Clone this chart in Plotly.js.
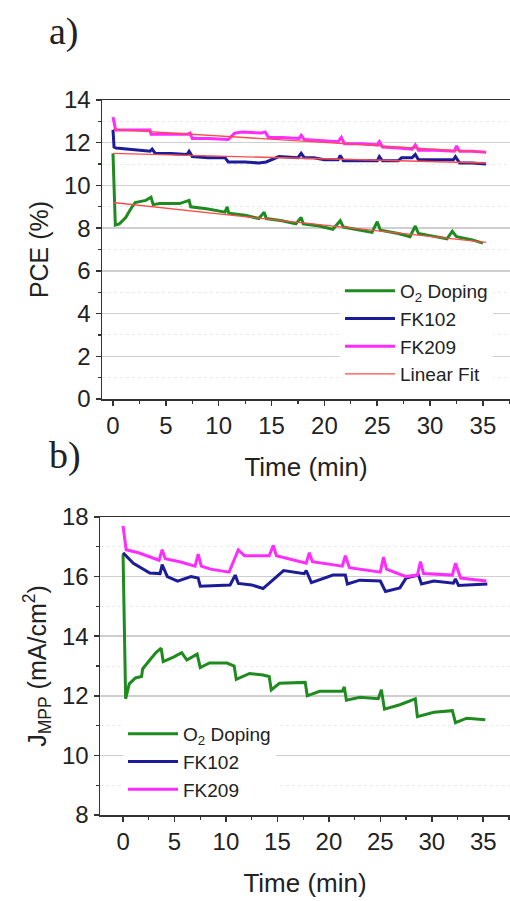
<!DOCTYPE html>
<html>
<head>
<meta charset="utf-8">
<script src="https://cdn.plot.ly/plotly-3.0.1.min.js"></script>
<style>html,body{margin:0;padding:0;background:#fff;}#chart{width:510px;height:901px;}</style>
</head>
<body>
<div id="chart"></div>
<script>
// ---------- Panel a) PCE (%) ----------
const pceO2T = [0, 0.05, 0.12, 0.22, 0.6, 1.2, 1.8, 2.1, 3.1, 3.6, 3.8, 4.4, 6.3, 7.2, 7.35, 9.0, 10.6, 10.8, 10.95, 12.5, 13.8, 14.3, 14.5, 16.0, 17.3, 17.8, 18.0, 19.5, 20.8, 21.5, 21.8, 23.0, 24.5, 25.0, 25.3, 27.0, 28.1, 28.6, 28.9, 30.0, 31.6, 32.1, 32.5, 34.0, 35.0];
const pceO2V = [11.5, 10.5, 9.2, 8.15, 8.2, 8.5, 9.0, 9.2, 9.3, 9.45, 9.1, 9.15, 9.15, 9.3, 9.0, 8.9, 8.75, 9.0, 8.7, 8.6, 8.45, 8.75, 8.45, 8.35, 8.2, 8.5, 8.2, 8.1, 7.95, 8.35, 8.05, 7.95, 7.8, 8.3, 7.9, 7.75, 7.6, 8.1, 7.75, 7.65, 7.5, 7.85, 7.6, 7.45, 7.3];

const pceFK102T = [0, 0.1, 0.3, 1.5, 3.0, 3.5, 3.7, 4.0, 5.5, 7.0, 7.2, 7.5, 9.0, 10.6, 10.9, 12.5, 13.8, 14.5, 15.7, 17.5, 17.8, 18.1, 19.0, 20.0, 21.3, 21.5, 21.8, 23.5, 25.0, 25.2, 25.5, 27.0, 27.3, 28.3, 28.6, 28.9, 30.5, 32.2, 32.4, 32.8, 34.0, 35.3];
const pceFK102V = [12.6, 11.8, 11.75, 11.7, 11.65, 11.6, 11.7, 11.5, 11.5, 11.45, 11.6, 11.35, 11.3, 11.3, 11.1, 11.1, 11.05, 11.1, 11.35, 11.3, 11.5, 11.3, 11.3, 11.2, 11.2, 11.4, 11.15, 11.15, 11.15, 11.35, 11.15, 11.15, 11.3, 11.3, 11.45, 11.2, 11.2, 11.2, 11.35, 11.05, 11.05, 11.0];

const pceFK209T = [0, 0.1, 0.25, 1.5, 3.5, 3.6, 5.0, 7.1, 7.3, 7.5, 9.0, 10.9, 11.5, 12.3, 14.0, 14.4, 14.7, 16.0, 17.6, 17.8, 18.1, 19.5, 21.3, 21.6, 21.9, 23.5, 25.0, 25.2, 25.5, 27.0, 28.3, 28.6, 28.9, 30.5, 32.3, 32.5, 32.8, 34.0, 35.3];
const pceFK209V = [13.2, 12.9, 12.6, 12.6, 12.6, 12.4, 12.4, 12.4, 12.45, 12.2, 12.2, 12.15, 12.45, 12.5, 12.45, 12.5, 12.25, 12.25, 12.2, 12.35, 12.15, 12.1, 12.05, 12.25, 11.95, 11.95, 11.9, 12.05, 11.8, 11.75, 11.7, 11.9, 11.65, 11.65, 11.6, 11.85, 11.6, 11.6, 11.55];

const fitT = [0, 35.3];
const fitO2V = [9.2, 7.33];
const fitFK102V = [11.5, 11.05];
const fitFK209V = [12.62, 11.55];

// ---------- Panel b) J_MPP (mA/cm2) ----------
const jO2T = [0, 0.1, 0.25, 0.6, 1.2, 1.8, 1.9, 2.6, 3.2, 3.7, 3.9, 4.9, 5.7, 6.2, 7.2, 7.5, 8.4, 10.1, 10.8, 11.0, 12.3, 13.6, 14.2, 14.4, 15.2, 17.7, 17.9, 19.1, 21.3, 21.5, 21.7, 23.0, 24.8, 25.1, 25.4, 26.9, 28.4, 28.6, 30.2, 32.0, 32.3, 33.4, 35.2];
const jO2V = [16.75, 14.5, 11.9, 12.4, 12.6, 12.65, 12.9, 13.2, 13.45, 13.6, 13.15, 13.3, 13.45, 13.2, 13.4, 12.95, 13.1, 13.1, 13.0, 12.55, 12.75, 12.7, 12.65, 12.2, 12.42, 12.45, 12.0, 12.15, 12.15, 12.3, 11.85, 11.95, 11.9, 12.2, 11.55, 11.7, 11.9, 11.3, 11.45, 11.5, 11.1, 11.25, 11.2];

const jFK102T = [0, 1.0, 2.6, 3.6, 3.8, 4.3, 5.3, 6.6, 7.3, 7.5, 10.4, 10.9, 11.2, 12.5, 13.6, 15.6, 17.6, 17.8, 18.3, 20.4, 21.6, 21.8, 23.0, 25.0, 25.5, 26.9, 27.5, 28.7, 29.0, 30.2, 32.1, 32.3, 32.6, 35.4];
const jFK102V = [16.8, 16.45, 16.12, 16.1, 16.4, 16.0, 15.85, 16.0, 15.95, 15.68, 15.72, 16.05, 15.77, 15.72, 15.6, 16.2, 16.1, 16.2, 15.8, 16.05, 16.05, 15.75, 15.88, 15.85, 15.5, 15.62, 15.95, 16.05, 15.75, 15.85, 15.78, 15.92, 15.7, 15.75];

const jFK209T = [0, 0.3, 1.5, 3.5, 3.8, 4.1, 5.5, 7.0, 7.3, 7.6, 8.5, 10.3, 11.2, 11.8, 14.2, 14.6, 14.9, 17.8, 18.1, 18.4, 21.3, 21.6, 22.0, 25.0, 25.3, 25.6, 27.5, 28.6, 28.9, 29.2, 32.0, 32.3, 32.8, 35.3];
const jFK209V = [17.7, 16.9, 16.8, 16.55, 16.9, 16.6, 16.5, 16.35, 16.75, 16.35, 16.25, 16.15, 16.9, 16.7, 16.7, 17.05, 16.7, 16.45, 16.8, 16.5, 16.35, 16.7, 16.3, 16.15, 16.65, 16.25, 16.0, 16.05, 16.5, 16.1, 16.05, 16.45, 15.95, 15.85];

// ---------- Tick labels / names ----------
const names = ['O<sub>2</sub> Doping', 'FK102', 'FK209', 'Linear Fit'];
const colors = {o2: '#1f8a1f', fk102: '#1c1c98', fk209: '#ff2cff', fit: '#ff4a4a'};

const FONT = 'Arial, "Liberation Sans", sans-serif';
const W = 510, H = 901;

function line(x, y, name, color, width, xa, ya, legend, show) {
  return {x: x, y: y, name: name, type: 'scatter', mode: 'lines',
    line: {color: color, width: width}, xaxis: xa, yaxis: ya,
    legend: legend, showlegend: show, hoverinfo: 'skip'};
}

const data = [
  line(pceO2T, pceO2V, names[0], colors.o2, 3, 'x', 'y', 'legend', true),
  line(pceFK102T, pceFK102V, names[1], colors.fk102, 3, 'x', 'y', 'legend', true),
  line(pceFK209T, pceFK209V, names[2], colors.fk209, 3, 'x', 'y', 'legend', true),
  line(fitT, fitO2V, names[3], colors.fit, 1.3, 'x', 'y', 'legend', true),
  line(fitT, fitFK102V, names[3], colors.fit, 1.3, 'x', 'y', 'legend', false),
  line(fitT, fitFK209V, names[3], colors.fit, 1.3, 'x', 'y', 'legend', false),
  line(jO2T, jO2V, names[0], colors.o2, 3, 'x2', 'y2', 'legend2', true),
  line(jFK102T, jFK102V, names[1], colors.fk102, 3, 'x2', 'y2', 'legend2', true),
  line(jFK209T, jFK209V, names[2], colors.fk209, 3, 'x2', 'y2', 'legend2', true)
];

function xax(range, dom, anchor) {
  return {domain: dom, range: range, anchor: anchor, tickmode: 'linear', tick0: 0, dtick: 5,
    ticks: 'outside', ticklen: 5, tickwidth: 1.5, tickcolor: '#333',
    showline: true, linecolor: '#333', linewidth: 1.5, mirror: true,
    showgrid: false, zeroline: false,
    tickfont: {family: FONT, size: 24, color: '#222'},
    minor: {dtick: 2.5, tick0: 0, ticks: 'outside', ticklen: 3, tickwidth: 1.2, tickcolor: '#333', showgrid: false},
    title: {text: 'Time (min)', font: {family: FONT, size: 26, color: '#222'}, standoff: 19}};
}
function yax(range, dtick, dom, anchor, title) {
  return {domain: dom, range: range, anchor: anchor, tickmode: 'linear', tick0: 0, dtick: dtick,
    ticks: 'outside', ticklen: 5, tickwidth: 1.5, tickcolor: '#333',
    showline: true, linecolor: '#333', linewidth: 1.5, mirror: false,
    showgrid: true, gridcolor: '#cfcfcf', gridwidth: 1.5, zeroline: false,
    tickfont: {family: FONT, size: 24, color: '#222'},
    minor: {dtick: dtick / 2, ticks: 'outside', ticklen: 3, tickwidth: 1.2, tickcolor: '#333',
      showgrid: true, gridcolor: '#ebebeb', gridwidth: 1, griddash: 'dot'},
    title: {text: title, font: {family: FONT, size: 25, color: '#222'}, standoff: 8}};
}

const layout = {
  width: W, height: H,
  margin: {l: 0, r: 0, t: 0, b: 0},
  paper_bgcolor: '#fff', plot_bgcolor: '#fff',
  showlegend: true,
  xaxis: xax([-1.04, 37.56], [102 / W, 1], 'y'),
  yaxis: yax([0, 14], 2, [1 - 399 / H, 1 - 100 / H], 'x', 'PCE (%)'),
  xaxis2: xax([-2.24, 37.6], [100 / W, 1], 'y2'),
  yaxis2: yax([8, 18], 2, [1 - 815 / H, 1 - 517 / H], 'x2', 'J<sub>MPP</sub> (mA/cm<sup>2</sup>)'),
  legend: {x: 340 / W, y: 1 - 272 / H, xanchor: 'left', yanchor: 'top', bgcolor: '#fff',
    font: {family: FONT, size: 19, color: '#222'}, itemwidth: 50, tracegroupgap: 0, traceorder: 'normal'},
  legend2: {x: 123 / W, y: 1 - 715 / H, xanchor: 'left', yanchor: 'top', bgcolor: '#fff',
    font: {family: FONT, size: 19, color: '#222'}, itemwidth: 50, tracegroupgap: 0, traceorder: 'normal'},
  annotations: [
    {text: 'a)', xref: 'paper', yref: 'paper', x: 47 / W, y: 1 - 32 / H, xanchor: 'left', yanchor: 'middle',
      showarrow: false, font: {family: '"Times New Roman", "Liberation Serif", serif', size: 38, color: '#222'}},
    {text: 'b)', xref: 'paper', yref: 'paper', x: 47 / W, y: 1 - 456 / H, xanchor: 'left', yanchor: 'middle',
      showarrow: false, font: {family: '"Times New Roman", "Liberation Serif", serif', size: 38, color: '#222'}}
  ]
};

Plotly.newPlot('chart', data, layout, {staticPlot: true, displayModeBar: false});
</script>
</body>
</html>
